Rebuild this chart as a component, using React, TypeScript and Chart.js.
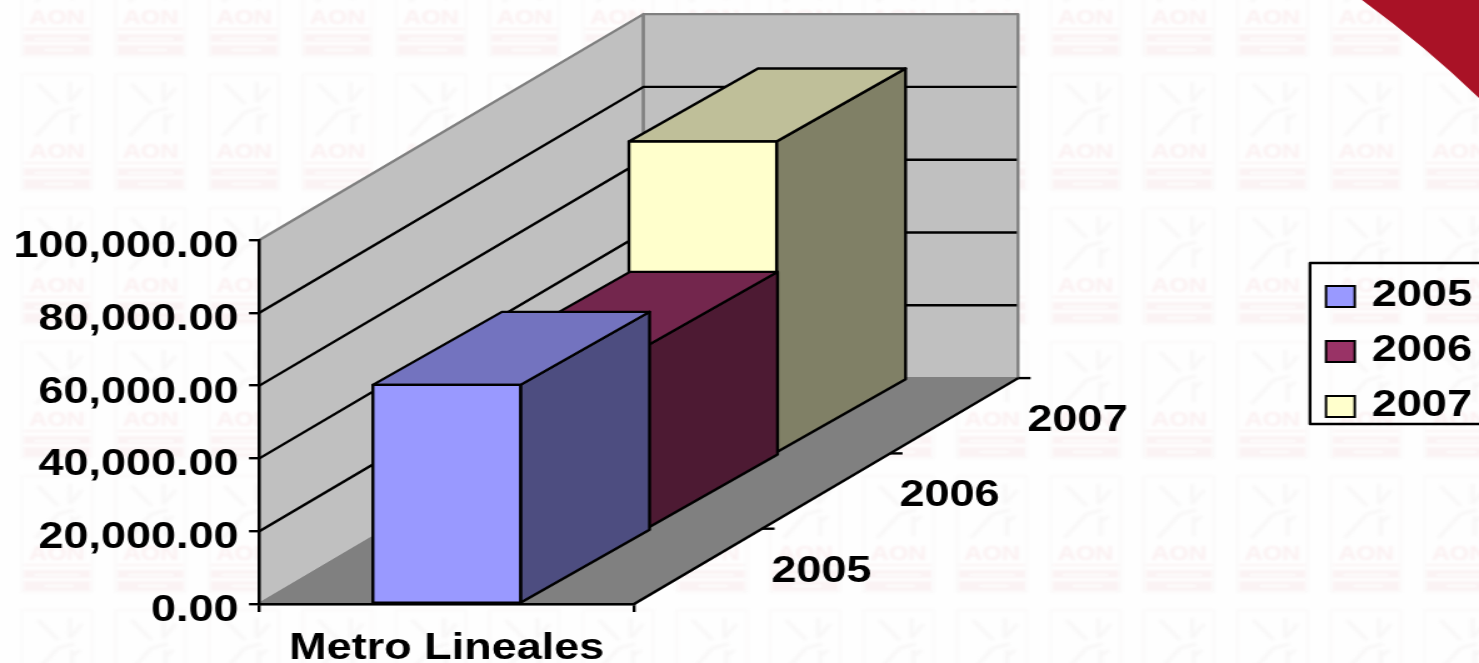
import React, { useEffect, useRef } from "react";
import { Chart, registerables } from "chart.js";

Chart.register(...registerables);

const categories = ["Metro Lineales"];
const seriesNames = ["2005", "2006", "2007"];
const values2005 = [60200];
const values2006 = [50500];
const values2007 = [85700];
const yTicks = { min: 0, max: 100000, step: 20000 };

const faceColors = ["#9999FF", "#993366", "#FFFFCC"];
const topColors = ["#7373BF", "#73264D", "#BFBF99"];
const sideColors = ["#4D4D80", "#4D1A33", "#808066"];

const PAGE_W = 1479;
const PAGE_H = 663;
const STRETCH = 1.25;
const W = Math.round(PAGE_W / STRETCH);
const FONT = "'Liberation Sans', Arial, sans-serif";
const FONT_SIZE = 36;
const LINE = 2.4;
const SLOT_DX = 128 / STRETCH;
const SLOT_DY = 75.3;
const BAR_DEPTH_X = 129 / STRETCH;
const BAR_DEPTH_Y = 73;
const px = (x: number) => (x * W) / PAGE_W;

function poly(ctx: any, pts: number[][], fill?: string, stroke?: string, lw = LINE) {
  ctx.beginPath();
  pts.forEach((p, i) => (i ? ctx.lineTo(p[0], p[1]) : ctx.moveTo(p[0], p[1])));
  ctx.closePath();
  if (fill) {
    ctx.fillStyle = fill;
    ctx.fill();
  }
  if (stroke) {
    ctx.strokeStyle = stroke;
    ctx.lineWidth = lw;
    ctx.lineJoin = "round";
    ctx.stroke();
  }
}

function segs(ctx: any, ox: number, oy: number, list: number[][]) {
  ctx.beginPath();
  list.forEach((s) => {
    ctx.moveTo(ox + px(s[0]), oy + s[1]);
    ctx.lineTo(ox + px(s[2]), oy + s[3]);
  });
  ctx.stroke();
}

function drawTile(ctx: any, cx: number, cy: number) {
  const x = px(cx);
  ctx.lineWidth = 1;
  ctx.strokeStyle = "#f9f7f7";
  ctx.strokeRect(x, cy, px(70), 116);
  ctx.lineWidth = 3;
  ctx.strokeStyle = "#f8f7f7";
  segs(ctx, x, cy, [
    [16, 10, 36, 30],
    [48, 8, 48, 28],
    [60, 14, 48, 28],
    [36, 38, 14, 62],
    [36, 38, 52, 34],
    [50, 40, 50, 60],
    [58, 40, 50, 46],
  ]);
  ctx.fillStyle = "#fbf1f2";
  ctx.font = `bold 20px ${FONT}`;
  ctx.textAlign = "center";
  ctx.textBaseline = "alphabetic";
  ctx.fillText("AON", x + px(35), cy + 84);
  ctx.fillStyle = "#fbf3f4";
  ctx.fillRect(x + px(2), cy + 88, px(66), 2);
  ctx.fillRect(x + px(2), cy + 94, px(66), 8);
  ctx.fillRect(x + px(2), cy + 105, px(66), 10);
  ctx.fillStyle = "#fefefe";
  ctx.fillRect(x + px(12), cy + 98, px(46), 2);
  ctx.fillRect(x + px(22), cy + 109, px(30), 2);
}

const scenePlugin = {
  id: "scene3d",
  afterLayout(chart: any) {
    const lg = chart.legend;
    if (!lg) return;
    const pad = 19;
    lg.left = px(1326) - pad;
    lg.top = 278.5 - pad;
    lg.right = px(1472);
    lg.bottom = PAGE_H;
    lg.width = lg.right - lg.left;
    lg.height = lg.bottom - lg.top;
  },
  beforeDraw(chart: any) {
    const { ctx, scales } = chart;
    const xs = scales.x;
    const ys = scales.y;
    ctx.save();
    ctx.fillStyle = "#fefefe";
    ctx.fillRect(0, 0, W, PAGE_H);

    ctx.save();
    ctx.filter = "blur(0.8px)";
    for (let j = 0; j < 6; j++) {
      for (let k = 0; k < 16; k++) drawTile(ctx, 22 + k * 93.5, -60 + j * 134);
    }
    ctx.restore();

    ctx.beginPath();
    ctx.moveTo(px(1362), 0);
    ctx.quadraticCurveTo(px(1425), 46, px(1479), 98);
    ctx.lineTo(px(1479), 0);
    ctx.closePath();
    ctx.fillStyle = "#A91226";
    ctx.fill();

    const n = seriesNames.length;
    const l = xs.left;
    const r = xs.right;
    const base = ys.getPixelForValue(yTicks.min);
    const top = ys.getPixelForValue(yTicks.max);
    const dx = SLOT_DX * n;
    const dy = SLOT_DY * n;

    poly(ctx, [[l, top], [l + dx, top - dy], [l + dx, base - dy], [l, base]], "#C0C0C0", "#808080");
    poly(ctx, [[l + dx, top - dy], [r + dx, top - dy], [r + dx, base - dy], [l + dx, base - dy]], "#C0C0C0", "#808080");
    poly(ctx, [[l, base], [r, base], [r + dx, base - dy], [l + dx, base - dy]], "#808080", "#808080");

    ctx.strokeStyle = "#000";
    ctx.lineWidth = LINE;
    ys.ticks.forEach((t: any) => {
      if (t.value === yTicks.min || t.value === yTicks.max) return;
      const y = ys.getPixelForValue(t.value);
      ctx.beginPath();
      ctx.moveTo(l, y);
      ctx.lineTo(l + dx, y - dy);
      ctx.lineTo(r + dx - 1, y - dy);
      ctx.stroke();
    });

    ctx.beginPath();
    ctx.moveTo(r, base);
    ctx.lineTo(r + dx, base - dy);
    ctx.stroke();

    ctx.fillStyle = "#000";
    ctx.font = `bold ${FONT_SIZE}px ${FONT}`;
    ctx.textAlign = "left";
    ctx.textBaseline = "middle";
    seriesNames.forEach((name, i) => {
      const tx = r + SLOT_DX * (i + 1);
      const ty = base - SLOT_DY * (i + 1);
      ctx.beginPath();
      ctx.moveTo(tx, ty);
      ctx.lineTo(tx + 10, ty);
      ctx.stroke();
      ctx.fillText(name, tx + 7.5, ty + 43);
    });

    ctx.strokeStyle = "#000";
    ctx.lineWidth = LINE;
    ctx.strokeRect(px(1310), 263, px(1479 - 1310) + 4, 161);
    ctx.restore();
  },
  beforeDatasetsDraw(chart: any) {
    const { ctx } = chart;
    ctx.save();
    for (let i = seriesNames.length - 1; i >= 0; i--) {
      const el = chart.getDatasetMeta(i).data[0];
      const ox = SLOT_DX * i;
      const oy = -SLOT_DY * i;
      const x0 = el.x - el.width / 2 + ox;
      const x1 = el.x + el.width / 2 + ox;
      const yT = el.y + oy;
      const yB = el.base + oy;
      const ddx = BAR_DEPTH_X;
      const ddy = -BAR_DEPTH_Y;
      poly(ctx, [[x1, yT], [x1 + ddx, yT + ddy], [x1 + ddx, yB + ddy], [x1, yB]], sideColors[i], "#000");
      poly(ctx, [[x0, yT], [x0 + ddx, yT + ddy], [x1 + ddx, yT + ddy], [x1, yT]], topColors[i], "#000");
      poly(ctx, [[x0, yT], [x1, yT], [x1, yB], [x0, yB]], faceColors[i], "#000");
    }
    ctx.restore();
    return false;
  },
};

export default function App() {
  const ref = useRef<HTMLCanvasElement>(null);
  useEffect(() => {
    document.body.style.margin = "0";
    document.body.style.overflow = "hidden";
    const allValues = [values2005, values2006, values2007];
    const chart = new Chart(ref.current as HTMLCanvasElement, {
      type: "bar",
      data: {
        labels: categories,
        datasets: seriesNames.map((name, i) => ({
          label: name,
          data: allValues[i],
          backgroundColor: faceColors[i],
          borderColor: "#000",
          borderWidth: 2,
          grouped: false,
          categoryPercentage: 1,
          barPercentage: 0.394,
        })),
      },
      options: {
        responsive: false,
        animation: false,
        devicePixelRatio: 1,
        layout: { padding: { left: 2.4, top: 240, right: W - px(634), bottom: 0 } },
        plugins: {
          title: { display: false },
          tooltip: { enabled: false },
          legend: {
            display: true,
            position: "chartArea",
            align: "start",
            labels: {
              boxWidth: 23,
              boxHeight: 21,
              padding: 19,
              color: "#000",
              textAlign: "right",
              font: { family: FONT, size: FONT_SIZE, weight: "bold" },
            },
          },
        },
        scales: {
          x: {
            border: { color: "#000", width: LINE },
            grid: { drawOnChartArea: false, color: "#000", lineWidth: LINE, tickLength: 8, offset: true },
            afterFit: (s: any) => {
              s.height = 59;
            },
            ticks: {
              color: "#000",
              padding: 15,
              maxRotation: 0,
              font: { family: FONT, size: FONT_SIZE, weight: "bold" },
            },
          },
          y: {
            min: yTicks.min,
            max: yTicks.max,
            border: { color: "#000", width: LINE },
            grid: { drawOnChartArea: false, color: "#000", lineWidth: LINE, tickLength: 8.3 },
            ticks: {
              stepSize: yTicks.step,
              color: "#000",
              padding: 8.3,
              labelOffset: 7,
              font: { family: FONT, size: FONT_SIZE, weight: "bold" },
              callback: (v: any) =>
                Number(v).toLocaleString("en-US", { minimumFractionDigits: 2, maximumFractionDigits: 2 }),
            },
          },
        },
      },
      plugins: [scenePlugin],
    } as any);
    return () => chart.destroy();
  }, []);
  return (
    <canvas
      ref={ref}
      width={W}
      height={PAGE_H}
      style={{ display: "block", width: PAGE_W + "px", height: PAGE_H + "px" }}
    />
  );
}
